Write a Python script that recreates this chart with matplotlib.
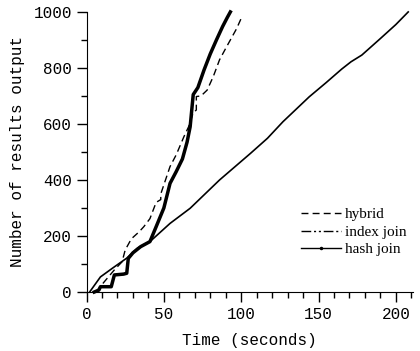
import matplotlib
matplotlib.use('Agg')
import matplotlib.pyplot as plt
from matplotlib.lines import Line2D
from matplotlib.ticker import MultipleLocator

# data
hybrid_t = [6, 12, 18, 23, 25, 29, 34, 37, 41, 45, 48, 48, 54, 58, 63, 66, 69, 71, 71, 74, 78, 82, 86, 90, 93, 97, 100]
hybrid_n = [0, 40, 79, 108, 150, 190, 215, 233, 262, 320, 330, 350, 448, 490, 555, 590, 640, 650, 698, 700, 721, 770, 829, 870, 900, 940, 977]

index_t = [5, 8, 9, 16, 17, 18, 24, 26, 27, 30, 35, 41, 45, 50, 54, 58, 62, 65, 67, 69, 72, 76, 80, 84, 88, 91, 93]
index_n = [0, 7, 19, 19, 40, 61, 64, 67, 120, 140, 162, 180, 233, 300, 388, 430, 475, 535, 590, 705, 730, 793, 850, 900, 948, 980, 1000]

hash_t = [2, 9, 17, 26, 33, 41, 54, 67, 86, 106, 117, 127, 144, 155, 165, 171, 178, 190, 200, 208]
hash_n = [0, 54, 86, 121, 157, 180, 245, 299, 400, 495, 549, 608, 697, 748, 796, 822, 846, 905, 955, 1000]

labels = ['hybrid', 'index join', 'hash join']

mono = 'Liberation Mono'
serif = 'Liberation Serif'

fig = plt.figure(figsize=(4.2, 3.51), dpi=100)
ax = fig.add_axes([0.206, 0.168, 0.777, 0.798])

ax.plot(hybrid_t, hybrid_n, color='black', lw=1.0, ls=(0, (5, 3)), clip_on=False)
ax.plot(index_t, index_n, color='black', lw=2.5, clip_on=False)
ax.plot(hash_t, hash_n, color='black', lw=1.2, clip_on=False)

ax.set_xlim(0, 211)
ax.set_ylim(0, 1000)
ax.xaxis.set_major_locator(MultipleLocator(50))
ax.xaxis.set_minor_locator(MultipleLocator(10))
ax.yaxis.set_major_locator(MultipleLocator(200))
ax.yaxis.set_minor_locator(MultipleLocator(100))
ax.spines['top'].set_visible(False)
ax.spines['right'].set_visible(False)
ax.tick_params(which='major', direction='out', length=7, width=1, labelsize=11.5)
ax.tick_params(which='minor', direction='out', length=4, width=1)
for lab in ax.get_xticklabels() + ax.get_yticklabels():
    lab.set_family(mono)

ax.set_xlabel('Time (seconds)', family=mono, fontsize=11.5, labelpad=8)
ax.set_ylabel('Number of results output', family=mono, fontsize=11.5, labelpad=6)

handles = [
    Line2D([], [], color='black', lw=1.0, ls=(0, (5, 3))),
    Line2D([], [], color='black', lw=1.0, ls=(0, (7, 2, 1.5, 2, 1.5, 2))),
    Line2D([], [], color='black', lw=1.0, marker='.', markersize=3),
]
ax.legend(handles, labels, loc='upper left', bbox_to_anchor=(0.615, 0.35),
          frameon=False, prop={'family': serif, 'size': 11},
          handlelength=2.6, handletextpad=0.25, labelspacing=0.25, numpoints=1)

fig.savefig('out.png', dpi=100)
